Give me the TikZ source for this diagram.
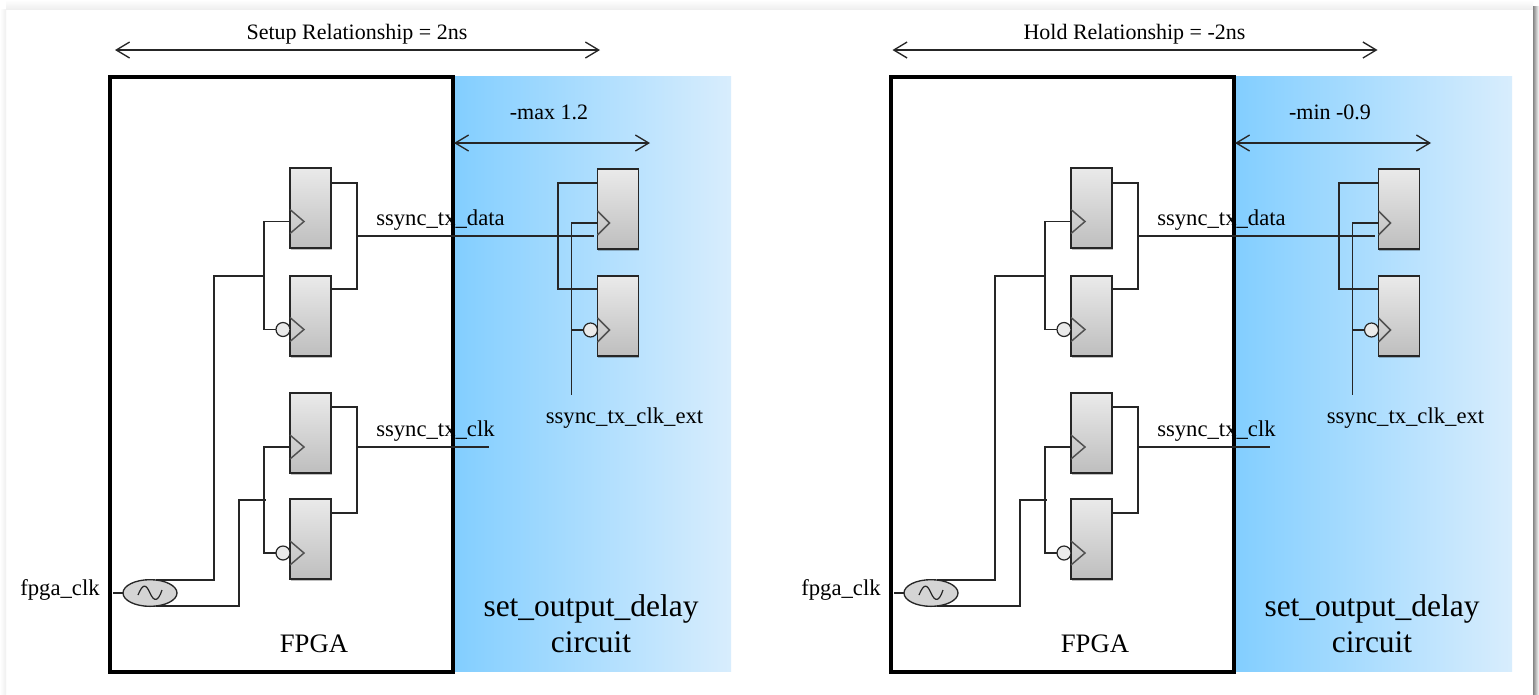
\documentclass[tikz,border=0pt]{standalone}
\usepackage{fontspec}
\setmainfont{Liberation Serif}
\usepackage{xcolor}
\usetikzlibrary{arrows.meta,positioning,calc,shadows,shapes.geometric}
\definecolor{delayblue}{HTML}{82CEFF}
\definecolor{delaypale}{HTML}{D8EDFD}
\definecolor{wireink}{HTML}{262626}
\definecolor{flophigh}{HTML}{EAEAEA}
\definecolor{floplow}{HTML}{BEBEBE}
\definecolor{pagegray}{HTML}{EFEFEF}
\definecolor{edgegray}{HTML}{858585}
\tikzset{
  fpgabox/.style={draw=black,line width=3pt,fill=white,outer sep=0pt,inner sep=0pt,minimum width=257.25pt,minimum height=446.25pt},
  delaybox/.style={left color=delayblue,right color=delaypale,draw=none,outer sep=0pt,inner sep=0pt,minimum width=208.5pt,minimum height=446.25pt},
  flopnode/.style={draw=wireink,line width=1.2pt,top color=flophigh,bottom color=floplow,outer sep=0pt,inner sep=0pt,minimum width=30.75pt,minimum height=60pt,drop shadow={shadow xshift=0.4pt,shadow yshift=-1.4pt,opacity=.25,fill=black}},
  bubblenode/.style={circle,draw=wireink,line width=.9pt,fill=flophigh,outer sep=0pt,inner sep=0pt,minimum size=10.5pt},
  oscnode/.style={ellipse,draw=wireink,line width=1pt,fill=black!17,outer sep=0pt,inner sep=0pt,minimum width=40.5pt,minimum height=20pt},
  wire/.style={draw=wireink,line width=1.2pt},
  clkmark/.style={draw=wireink!80,line width=1.1pt},
  spanarrow/.style={{Straight Barb[length=10pt,width=12pt]}-{Straight Barb[length=10pt,width=12pt]},draw=wireink,line width=1pt},
  textlabel/.style={inner sep=0pt,anchor=base,font=\fontsize{16.5}{19}\selectfont},
  wirelabel/.style={inner sep=0pt,anchor=base,font=\fontsize{17}{20}\selectfont},
  biglabel/.style={inner sep=0pt,anchor=base,font=\fontsize{20}{24}\selectfont},
  titlelabel/.style={inner sep=0pt,anchor=base,font=\fontsize{23.6}{27}\selectfont},
}
\begin{document}
\begin{tikzpicture}[x=0.75pt,y=-0.75pt]
  \useasboundingbox (0,0) rectangle (1539,694);
  \fill[white] (0,0) rectangle (1539,694);
  % soft page edges
  \shade[top color=white,bottom color=pagegray] (6,0) rectangle (1533,9);
  \shade[left color=white,right color=pagegray] (0,9) rectangle (6,694);
  \shade[left color=edgegray,right color=white] (1533,6) rectangle (1539,694);
  % one panel per constraint
  \foreach \pf/\ox/\topshift/\toptext/\dlytext in {l/0/0/Setup Relationship = 2ns/-max 1.2,r/781/-3.5/Hold Relationship = -2ns/-min -0.9}{
  \begin{scope}[shift={(\ox,0)},name prefix=\pf-]
    \node[delaybox,anchor=north west] (dlybox) at (453,76) {};
    \node[fpgabox,anchor=north west] (fpga) at (110,77) {};
    \node[biglabel] (fpgatext) at (314,652) {FPGA};
    \node[titlelabel] (settext) at (591,616) {set\_output\_delay};
    \node[titlelabel] (circtext) at (591,652) {circuit};
    % spans
    \coordinate (rela) at (115+\topshift,50);
    \coordinate (relb) at (600+\topshift,50);
    \draw[spanarrow] (rela)--(relb);
    \node[textlabel] (reltext) at (357+\topshift,39) {\toptext};
    \coordinate (dlya) at (454,143);
    \coordinate (dlyb) at (650,143);
    \draw[spanarrow] (dlya)--(dlyb);
    \node[textlabel] (dlytext) at (549,119) {\dlytext};
    % fpga flops
    \node[flopnode] (ffa) at (310.5,208) {};
    \node[flopnode] (ffb) at (310.5,316) {};
    \node[flopnode] (ffc) at (310.5,433) {};
    \node[flopnode] (ffd) at (310.5,539) {};
    \coordinate (aclk) at ($(ffa.west)+(0,13.5)$);
    \coordinate (bclk) at ($(ffb.west)+(0,13.5)$);
    \coordinate (cclk) at ($(ffc.west)+(0,14)$);
    \coordinate (dclk) at ($(ffd.west)+(0,14)$);
    \node[bubblenode,left=0pt of bclk] (bub) {};
    \node[bubblenode,left=0pt of dclk] (dub) {};
    \draw[clkmark] ($(aclk)+(0,-12)$)--($(aclk)+(14,0)$)--($(aclk)+(0,12)$);
    \draw[clkmark] ($(bclk)+(0,-12)$)--($(bclk)+(14,0)$)--($(bclk)+(0,12)$);
    \draw[clkmark] ($(cclk)+(0,-12)$)--($(cclk)+(14,0)$)--($(cclk)+(0,12)$);
    \draw[clkmark] ($(dclk)+(0,-12)$)--($(dclk)+(14,0)$)--($(dclk)+(0,12)$);
    % outputs
    \coordinate (dataout) at (357,236);
    \coordinate (clkout) at (357,447);
    \coordinate (clkend) at (489,447);
    \draw[wire] ($(ffa.east)+(0,-25)$)-|(dataout)|-($(ffb.east)+(0,-27)$);
    \draw[wire] ($(ffc.east)+(0,-26)$)-|(clkout)|-($(ffd.east)+(0,-26)$);
    \draw[wire] (clkout)--(clkend);
    \node[wirelabel,anchor=base west] (datatext) at (376,225) {ssync\_tx\_data};
    \node[wirelabel,anchor=base west] (clktext) at (376,436) {ssync\_tx\_clk};
    % clock tree
    \node[oscnode] (osc) at (150,593) {};
    \draw[wire,line width=.9pt] (138,595) .. controls (143,583) and (146,584) .. (150,593) .. controls (154,602) and (158,602) .. (162,590);
    \coordinate (clkin) at (113,593);
    \draw[wire] (clkin)--(osc);
    \node[wirelabel] (osctext) at (60,595) {fpga\_clk};
    \coordinate (busa) at (264,276);
    \coordinate (busb) at (264,500);
    \draw[wire] (aclk)-|(busa)|-(bub);
    \draw[wire] (cclk)-|(busb)|-(dub);
    \draw[wire] (osc.65)-|(214,276)--(busa);
    \draw[wire] (osc.-65)-|(239,500)--(266,500);
    % external flops
    \node[flopnode] (ffe) at (618,209) {};
    \node[flopnode] (fff) at (618,316) {};
    \coordinate (eclk) at ($(ffe.west)+(0,14)$);
    \coordinate (fclk) at ($(fff.west)+(0,14)$);
    \node[bubblenode,left=0pt of fclk] (fub) {};
    \draw[clkmark] ($(eclk)+(0,-12)$)--($(eclk)+(12,0)$)--($(eclk)+(0,12)$);
    \draw[clkmark] ($(fclk)+(0,-12)$)--($(fclk)+(12,0)$)--($(fclk)+(0,12)$);
    \coordinate (extbus) at (558,236);
    \coordinate (dataend) at (594,236);
    \draw[wire] ($(ffe.west)+(0,-26)$)-|(extbus)|-($(fff.west)+(0,-27)$);
    \draw[wire] (dataout)--(dataend);
    \coordinate (extclk) at (571.5,395);
    \draw[wire] (eclk)-|(extclk);
    \draw[wire] (fub)-|(extclk);
    \node[wirelabel] (exttext) at (624.5,423) {ssync\_tx\_clk\_ext};
  \end{scope}
  }
\end{tikzpicture}
\end{document}
